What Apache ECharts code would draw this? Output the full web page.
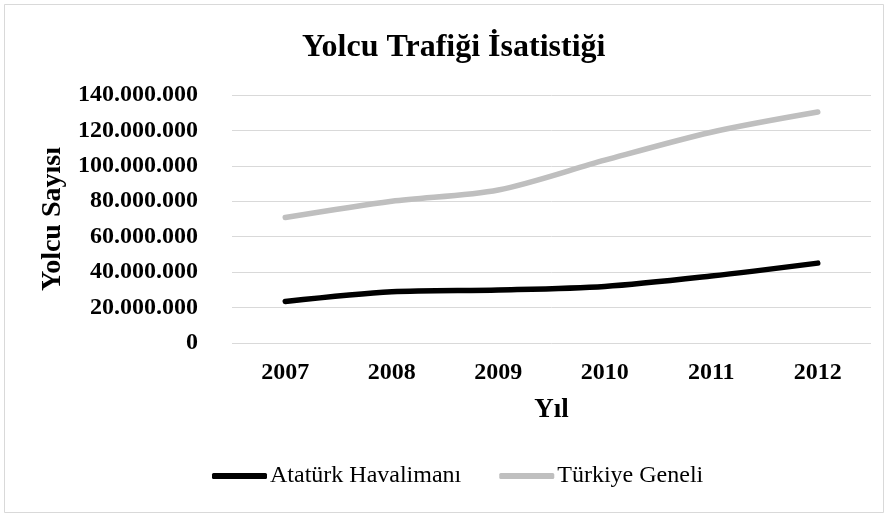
<!DOCTYPE html>
<html>
<head>
<meta charset="utf-8">
<script src="https://cdn.jsdelivr.net/npm/echarts@6/dist/echarts.min.js"></script>
<style>
  html, body { margin: 0; padding: 0; background: #fff; }
  #chart { width: 888px; height: 514px; }
</style>
</head>
<body>
<div id="chart"></div>
<script>
// Yearly passenger traffic: Atatürk Airport vs. all of Turkey
const years = ['2007', '2008', '2009', '2010', '2011', '2012'];
const ataturk = [23400000, 28900000, 29900000, 31900000, 37800000, 45100000];
const turkiye = [70800000, 80000000, 86400000, 103200000, 119000000, 130400000];
const seriesNames = ['Atatürk Havalimanı', 'Türkiye Geneli'];
const yTicks = { min: 0, max: 140000000, interval: 20000000 };

const serif = '"Liberation Serif", "Times New Roman", serif';

// Thousands grouped with dots, e.g. 140.000.000
function fmt(v) {
  return String(Math.round(v)).replace(/\B(?=(\d{3})+(?!\d))/g, '.');
}

const chart = echarts.init(document.getElementById('chart'), null, { renderer: 'canvas' });
chart.setOption({
  backgroundColor: '#fff',
  animation: false,
  title: {
    text: 'Yolcu Trafiği İsatistiği',
    left: 302,
    top: 32,
    padding: 0,
    textStyle: { fontFamily: serif, fontSize: 32, fontWeight: 'bold', color: '#000' }
  },
  graphic: [{
    type: 'rect',
    shape: { x: 4.5, y: 4.5, width: 879, height: 508 },
    style: { fill: 'none', stroke: '#D9D9D9', lineWidth: 1 },
    silent: true
  }],
  legend: {
    top: 464,
    left: 212,
    padding: 0,
    itemWidth: 55,
    itemHeight: 6,
    itemGap: 38,
    icon: 'roundRect',
    data: seriesNames,
    textStyle: { fontFamily: serif, fontSize: 24, color: '#000', padding: [0, 0, 0, -2] }
  },
  grid: { left: 232, right: 17, top: 95, bottom: 171 },
  xAxis: {
    type: 'category',
    data: years,
    boundaryGap: true,
    name: 'Yıl',
    nameLocation: 'middle',
    nameGap: 54,
    nameTextStyle: { fontFamily: serif, fontSize: 27, fontWeight: 'bold', color: '#000' },
    axisLine: { show: false },
    axisTick: { show: false },
    axisLabel: { fontFamily: serif, fontSize: 24, fontWeight: 'bold', color: '#000', margin: 18 }
  },
  yAxis: {
    type: 'value',
    min: yTicks.min,
    max: yTicks.max,
    interval: yTicks.interval,
    name: 'Yolcu Sayısı',
    nameLocation: 'middle',
    nameGap: 162,
    nameTextStyle: { fontFamily: serif, fontSize: 28, fontWeight: 'bold', color: '#000' },
    axisLine: { show: false },
    axisTick: { show: false },
    splitLine: { lineStyle: { color: '#D9D9D9', width: 1 } },
    axisLabel: { fontFamily: serif, fontSize: 24, fontWeight: 'bold', color: '#000', margin: 34, formatter: fmt }
  },
  series: [
    {
      name: seriesNames[0],
      type: 'line',
      data: ataturk,
      smooth: 0.3,
      symbol: 'none',
      lineStyle: { color: '#000000', width: 5.5, cap: 'round' },
      itemStyle: { color: '#000000' }
    },
    {
      name: seriesNames[1],
      type: 'line',
      data: turkiye,
      smooth: 0.3,
      symbol: 'none',
      lineStyle: { color: '#BFBFBF', width: 5.5, cap: 'round' },
      itemStyle: { color: '#BFBFBF' }
    }
  ]
});
</script>
</body>
</html>
